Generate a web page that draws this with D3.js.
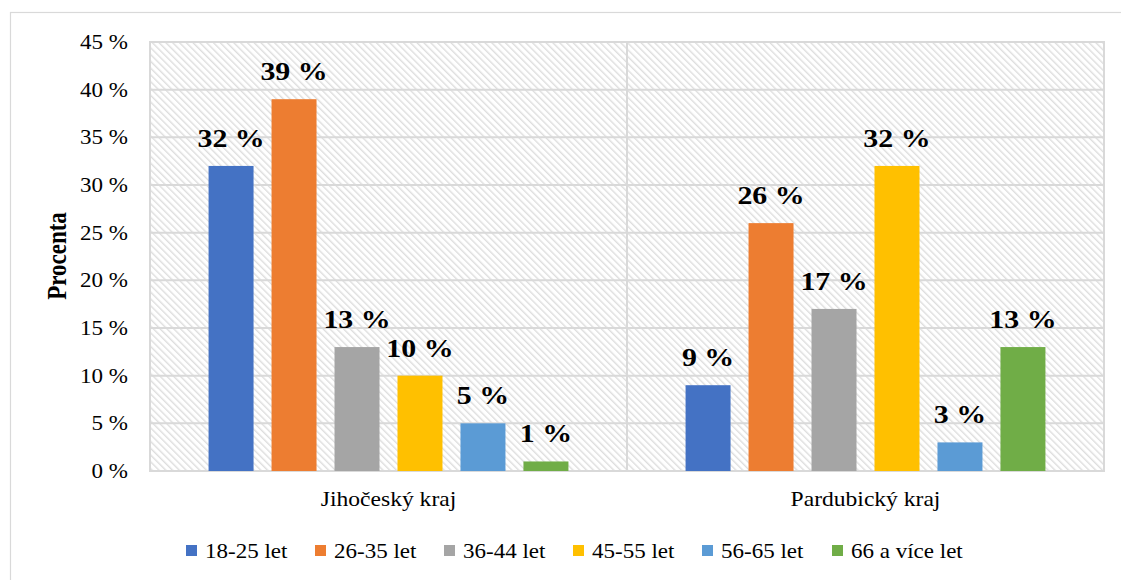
<!DOCTYPE html>
<html><head><meta charset="utf-8">
<script src="https://cdn.jsdelivr.net/npm/d3@7"></script>
<style>
html,body{margin:0;padding:0;background:#fff;}
svg{display:block;}
svg text{font-family:'Liberation Serif','Times New Roman',serif;}
</style></head>
<body><svg id="c" width="1121" height="580"></svg>
<script>
const categories = ["Jihočeský kraj", "Pardubický kraj"];
const seriesNames = ["18-25 let", "26-35 let", "36-44 let", "45-55 let", "56-65 let", "66 a více let"];
const seriesColors = ["#4472C4", "#ED7D31", "#A5A5A5", "#FFC000", "#5B9BD5", "#70AD47"];
const jihocesky = [32, 39, 13, 10, 5, 1];
const pardubicky = [9, 26, 17, 32, 3, 13];
const yTicks = [0, 5, 10, 15, 20, 25, 30, 35, 40, 45];

const values = [jihocesky, pardubicky];
const SX = 1.15;
const svg = d3.select("#c");
const m = {left:150, right:1104, top:42, bottom:471};

// outer frame
svg.append("rect").attr("x",10.5).attr("y",12.5).attr("width",1200).attr("height",700)
  .attr("fill","#fff").attr("stroke","#d9d9d9").attr("stroke-width",1.2);

// hatch pattern
const defs = svg.append("defs");
const pat = defs.append("pattern").attr("id","hatch").attr("patternUnits","userSpaceOnUse")
  .attr("width",4.8).attr("height",10).attr("patternTransform","rotate(-45)");
pat.append("rect").attr("width",4.8).attr("height",10).attr("fill","#fff");
pat.append("rect").attr("x",0).attr("y",0).attr("width",1.4).attr("height",10).attr("fill","#dedede");

const x0 = d3.scaleBand().domain(categories).range([m.left, m.right]).padding(0);
const x1 = d3.scaleBand().domain(seriesNames).range([0, x0.bandwidth()])
  .paddingInner(0.2857).paddingOuter(0.93);
const y = d3.scaleLinear().domain([0,45]).range([m.bottom, m.top]);

svg.append("rect").attr("x",m.left).attr("y",m.top).attr("width",m.right-m.left).attr("height",m.bottom-m.top)
  .attr("fill","url(#hatch)");

// gridlines
svg.append("g").selectAll("line").data(yTicks.filter(d=>d>0)).join("line")
  .attr("x1",m.left).attr("x2",m.right).attr("y1",d=>y(d)).attr("y2",d=>y(d))
  .attr("stroke","#d9d9d9").attr("stroke-width",2);
// category separator
svg.append("line").attr("x1",x0(categories[1])).attr("x2",x0(categories[1]))
  .attr("y1",m.top).attr("y2",m.bottom).attr("stroke","#d9d9d9").attr("stroke-width",2);
// plot border
svg.append("rect").attr("x",m.left).attr("y",m.top).attr("width",m.right-m.left).attr("height",m.bottom-m.top)
  .attr("fill","none").attr("stroke","#d9d9d9").attr("stroke-width",2);

// bars
const data = [];
categories.forEach((c,ci)=>seriesNames.forEach((s,si)=>data.push({c, s, si, v: values[ci][si]})));
svg.append("g").selectAll("rect").data(data).join("rect")
  .attr("x",d=>x0(d.c)+x1(d.s)).attr("width",x1.bandwidth())
  .attr("y",d=>y(d.v)).attr("height",d=>y(0)-y(d.v))
  .attr("fill",d=>seriesColors[d.si]);

// data labels
svg.append("g").selectAll("text").data(data).join("text")
  .attr("transform",d=>`translate(${x0(d.c)+x1(d.s)+x1.bandwidth()/2},${y(d.v)-19}) scale(${SX},1)`)
  .attr("text-anchor","middle").attr("font-weight","bold").attr("font-size",26).attr("fill","#000")
  .text(d=>d.v+" %");

// y tick labels
svg.append("g").selectAll("text").data(yTicks).join("text")
  .attr("transform",d=>`translate(128,${y(d)+7}) scale(${SX},1)`)
  .attr("text-anchor","end").attr("font-size",20).attr("fill","#000")
  .text(d=>d+" %");

// y title
svg.append("text").attr("transform",`translate(66,256) scale(${SX},1) rotate(-90)`)
  .attr("text-anchor","middle").attr("font-weight","bold").attr("font-size",23).attr("fill","#000")
  .text("Procenta");

// category labels
svg.append("g").selectAll("text").data(categories).join("text")
  .attr("transform",d=>`translate(${x0(d)+x0.bandwidth()/2},506) scale(${SX},1)`)
  .attr("text-anchor","middle").attr("font-size",20.5).attr("fill","#000").text(d=>d);

// legend
const legX = [186, 315, 444, 573, 702, 832];
const lg = svg.append("g").selectAll("g").data(seriesNames).join("g")
  .attr("transform",(d,i)=>`translate(${legX[i]},551)`);
lg.append("rect").attr("x",0).attr("y",-6).attr("width",11).attr("height",11).attr("fill",(d,i)=>seriesColors[i]);
lg.append("text").attr("transform",`translate(19,7) scale(${SX},1)`)
  .attr("font-size",20).attr("fill","#000").text(d=>d);
</script></body></html>
